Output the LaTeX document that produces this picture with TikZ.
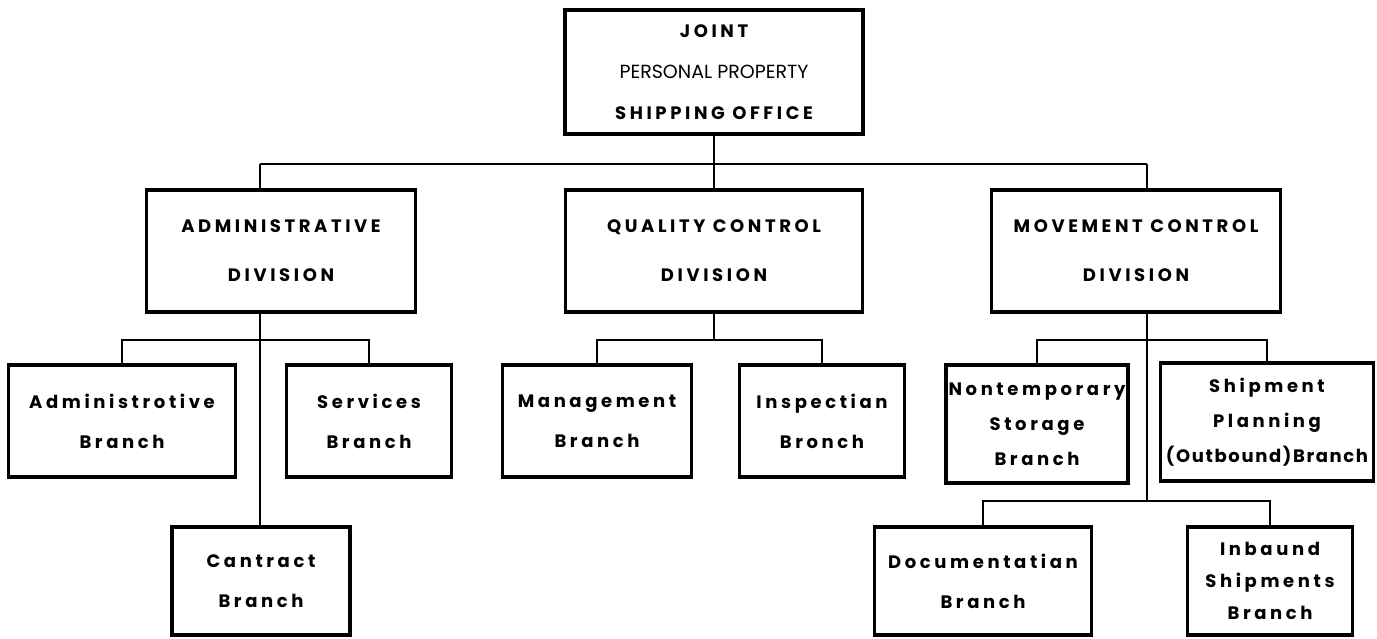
\documentclass[tikz,border=0pt]{standalone}
\usepackage{fontspec}
\setmainfont{Poppins}
\newfontfamily\chartfont[LetterSpace=20]{Poppins}
\newfontfamily\branchfont[LetterSpace=20]{Poppins}
\newfontfamily\tightfont[LetterSpace=9]{Poppins}
\usetikzlibrary{calc,positioning}
\tikzset{
  box/.style={rectangle, draw=black, line width=3.5pt, inner sep=0pt, align=center},
  topbox/.style={box, minimum width=298pt, minimum height=124pt, font=\fontsize{19}{41}\selectfont},
  divbox/.style={box, minimum width=#1, minimum height=122pt, font=\chartfont\bfseries\fontsize{18}{49}\selectfont},
  brbox/.style={box, minimum width=#1, minimum height=112pt, font=\branchfont\bfseries\fontsize{18}{40}\selectfont},
  brbox3/.style={box, minimum width=#1, minimum height=118pt, font=\branchfont\bfseries\fontsize{18}{35}\selectfont},
  lowbox/.style={box, minimum width=#1, minimum height=108pt, font=\branchfont\bfseries\fontsize{18}{40}\selectfont},
  conn/.style={draw, line width=1.8pt},
}
\begin{document}
\begin{tikzpicture}[x=1pt,y=-1pt]
\useasboundingbox (0,0) rectangle (1377,639);

  % head office
  \node[topbox] (top) at (714,72) {{\chartfont\bfseries\fontsize{18}{41}\selectfont JOINT}\\PERSONAL PROPERTY\\{\chartfont\bfseries\fontsize{18}{41}\selectfont SHIPPING OFFICE}};

  % divisions
  \node[divbox=269pt] (adm) at (281,251) {ADMINISTRATIVE\\DIVISION};
  \node[divbox=297pt] (qual) at (714,251) {QUALITY CONTROL\\DIVISION};
  \node[divbox=289pt] (mov) at (1136,251) {MOVEMENT CONTROL\\DIVISION};

  % branches
  \node[brbox=227pt] (admb) at (122,421) {Administrotive\\Branch};
  \node[brbox=165pt] (serv) at (369,421) {Services\\Branch};
  \node[lowbox=178pt] (cont) at (261,581) {Cantract\\Branch};
  \node[brbox=189pt] (mgmt) at (597,421) {Management\\Branch};
  \node[brbox=165pt] (insp) at (822,421) {Inspectian\\Bronch};
  \node[brbox3=182pt] (nts) at (1037,424) {Nontemporary\\Storage\\Branch};
  \node[brbox3=213pt] (ship) at (1267,422) {Shipment\\Planning\\{\tightfont\bfseries\fontsize{18}{35}\selectfont(Outbound)Branch}};
  \node[lowbox=217pt] (doc) at (983,581) {Documentatian\\Branch};
  \node[brbox3=165pt,minimum height=108pt,font=\branchfont\bfseries\fontsize{18}{32}\selectfont] (inb) at (1270,581) {Inbaund\\Shipments\\Branch};

  % connectors
  \coordinate (busl) at (260,164);
  \coordinate (busr) at (1147,164);
  \path[conn] (busl) -- (busr);
  \path[conn] (top.south) -- (qual.north);
  \path[conn] (busl) -- (busl |- adm.north);
  \path[conn] (busr) -- (busr |- mov.north);
  \path[conn] (adm.south -| busl) -- (cont.north -| busl);
  \path[conn] (admb.north) -- ++(0,-23) -| (serv.north);
  \path[conn] (mgmt.north) -- ++(0,-23) coordinate (qbus) -| (insp.north);
  \path[conn] (qual.south) -- (qual.south |- qbus);
  \path[conn] (nts.north) -- ++(0,-23) -| (ship.north);
  \path[conn] (doc.north) -- ++(0,-24) coordinate (docbus) -| (inb.north);
  \path[conn] (busr |- mov.south) -- (busr |- docbus);
\end{tikzpicture}
\end{document}
